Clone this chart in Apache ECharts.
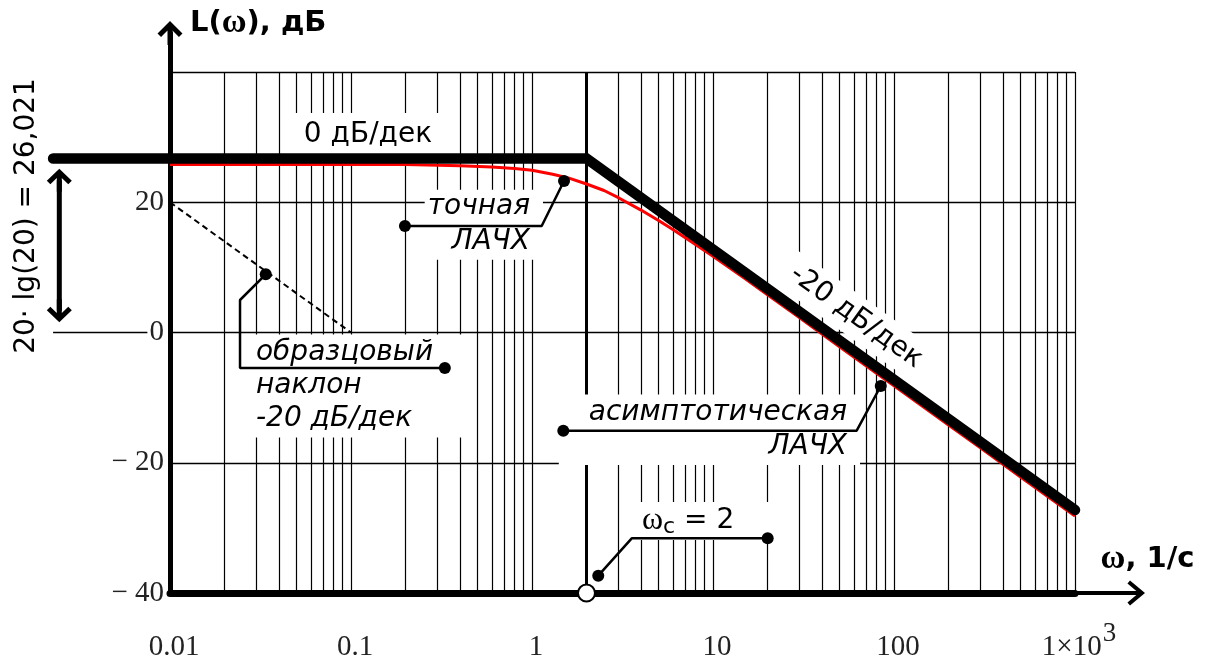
<!DOCTYPE html>
<html>
<head>
<meta charset="utf-8">
<script src="https://cdn.jsdelivr.net/npm/echarts@6/dist/echarts.min.js"></script>
<style>
  html, body { margin: 0; padding: 0; background: #fff; }
  #chart { width: 1207px; height: 661px; }
</style>
</head>
<body>
<div id="chart"></div>
<script>
// ---- axis ticks ----
const xTickLabels = ["0.01", "0.1", "1", "10", "100", "1×10{sup|3}"];
const yTicks = [-40, -20, 0, 20, 40];
const yTickLabels = ["− 40", "− 20", "0", "20", ""];
// log-paper grid lines, 1/s
const gridX = [
  0.01, 0.02, 0.03, 0.04, 0.05, 0.06, 0.07, 0.08, 0.09,
  0.1, 0.2, 0.3, 0.4, 0.5, 0.6, 0.7, 0.8, 0.9,
  1, 2, 3, 4, 5, 6, 7, 8, 9,
  10, 20, 30, 40, 50, 60, 70, 80, 90,
  100, 200, 300, 400, 500, 600, 700, 800, 900, 1000
];
const cornerW = 2;

// ---- asymptotic LAFC ----
const asymW = [0.00226, 2, 1000];
const asymL = [26.021, 26.021, -27.96];

// ---- exact LAFC ----
const exactW = [0.01, 0.1, 0.2, 0.4, 0.6, 0.8, 1, 1.3, 1.6, 2, 2.5, 3, 4, 5, 6, 8, 10,
  15, 20, 30, 50, 70, 100, 200, 300, 500, 700, 1000];
const exactL = [25.8, 25.8, 25.8, 25.6, 25.4, 25.2, 24.9, 24.3, 23.7, 22.8, 21.8, 20.7, 18.8,
  17.2, 15.8, 13.5, 11.7, 8.3, 5.8, 2.3, -2.2, -5.1, -8.2, -14.2, -17.7, -22.2, -25.1, -28.2];

// ---- reference slope -20 dB/dec ----
const slopeW = [0.01, 0.1];
const slopeL = [20, 0];

// ---- 0 dB line continued to the left, and the 20·lg(20) double arrow ----
const zeroW = [0.00226, 0.0075];
const zeroL = [0, 0];
const spanW = [0.002446, 0.002446];
const spanL = [23.37, 3.35];

// ---- callout leaders ----
const leaderExact = [[0.1986, 16.35], [1.131, 16.35], [1.503, 23.26]];
const leaderSlope = [[0.0338, 8.94], [0.02437, 4.99], [0.02437, -5.45], [0.330, -5.45]];
const leaderAsym = [[1.489, -15.08], [62.2, -15.08], [84.5, -8.21]];
const leaderWc = [[2.323, -37.34], [3.556, -31.6], [20.05, -31.6]];

// ---- annotation texts and their anchors [ω, dB] ----
const noteText = [
  "0 дБ/дек",
  "точная\nЛАЧХ",
  "образцовый\nнаклон\n-20 дБ/дек",
  "асимптотическая\nЛАЧХ",
  "-20 дБ/дек",
  "{w|ω}{c|c}{n| = 2}",
  "20· lg(20) = 26,021"
];
const noteAt = [
  [0.1241, 30.33],
  [1.150, 16.55],
  [0.02595, -8.21],
  [64.9, -14.93],
  [61.7, 2.38],
  [3.39, -28.94],
  [0.00162, 17.89]
];

const ink = "#000";
const serif = "Liberation Serif";
const sans = "DejaVu Sans";
const chevronY = "path://M0,0 L12.5,12.5 L8.96,16.04 L2.5,9.58 L2.5,24 L-2.5,24 L-2.5,9.58 L-8.96,16.04 L-12.5,12.5 Z";
const chevronX = "path://M0,0 L12.5,15 L9.43,17.56 L2,8.64 L2,30 L-2,30 L-2,8.64 L-9.43,17.56 L-12.5,15 Z";

// plot box on screen
const boxLeft = 170, boxRight = 132, boxTop = 72, boxBottom = 68;
const decadePx = 181;

const pairs = (xs, ys) => xs.map((x, i) => [x, ys[i]]);

const noteStyle = [
  { align: "center", padding: [6, 20, 10, 20], lineHeight: 28 },
  { align: "right", padding: [0, 13, 0, 3], lineHeight: 35, fontStyle: "italic" },
  { align: "left", padding: [1, 30, 3, 11], lineHeight: 33, fontStyle: "italic" },
  { align: "right", padding: [1, 13, 3, 30], lineHeight: 33.3, fontStyle: "italic" },
  { align: "center", padding: [8, 12, 4, 12], lineHeight: 28, rotate: -35.7 },
  {
    align: "left", padding: [2, 40, 2, 14], lineHeight: 34,
    rich: {
      w: { fontFamily: serif, fontSize: 32, lineHeight: 34, verticalAlign: "middle", color: ink },
      c: { fontFamily: sans, fontSize: 22, lineHeight: 34, verticalAlign: "middle", padding: [13, 0, 0, 0], color: ink },
      n: { fontFamily: sans, fontSize: 28, lineHeight: 34, verticalAlign: "middle", color: ink }
    }
  },
  { align: "center", rotate: 90, lineHeight: 28, backgroundColor: "transparent" }
];

function leader(data) {
  return {
    type: "line", data, symbol: "none", silent: true, z: 5,
    lineStyle: { color: ink, width: 2.5 }
  };
}

const dots = [leaderExact, leaderSlope, leaderAsym, leaderWc]
  .flatMap((l) => [l[0], l[l.length - 1]]);

const hiddenAxis = { show: false };

const chart = echarts.init(document.getElementById("chart"));

chart.setOption({
  animation: false,
  backgroundColor: "#fff",
  grid: [
    // 0: the log paper
    { left: boxLeft, right: boxRight, top: boxTop, bottom: boxBottom, outerBoundsMode: "none" },
    // 1: arrowed axes
    { left: boxLeft, right: 77, top: 33, bottom: boxBottom, outerBoundsMode: "none" },
    // 2: same scale, widened to the left edge, for marks outside the paper
    { left: 0, right: boxRight, top: boxTop, bottom: boxBottom, outerBoundsMode: "none" }
  ],
  xAxis: [
    {
      gridIndex: 0, type: "log", logBase: 10, min: 0.01, max: 1000,
      axisLine: { onZero: false, lineStyle: { color: ink, width: 7 } },
      axisTick: { show: false },
      splitLine: { show: false },
      axisLabel: {
        margin: 40, color: "#222", fontFamily: serif, fontSize: 29, lineHeight: 28,
        padding: [0, 0, 0, 8],
        formatter: (v) => {
          const s = xTickLabels[Math.round(Math.log10(v)) + 2];
          if (s === undefined) return "";
          return s.indexOf("{") >= 0 ? "{n|" + s.replace("{", "}{") : "{n|" + s + "}";
        },
        rich: {
          n: { fontFamily: serif, fontSize: 29, lineHeight: 28, color: "#222", verticalAlign: "middle" },
          sup: { fontFamily: serif, fontSize: 27, lineHeight: 28, color: "#222", verticalAlign: "middle", padding: [0, 0, 26, 1] }
        }
      }
    },
    {
      gridIndex: 1, type: "value", min: 0, max: 1,
      axisLine: {
        onZero: false, symbol: ["none", chevronX], symbolSize: [25, 30],
        lineStyle: { color: ink, width: 4 }
      },
      axisTick: { show: false }, axisLabel: { show: false }, splitLine: { show: false },
      name: "{w|ω}{b|, 1/с}", nameLocation: "end", nameGap: 17.5,
      nameTextStyle: {
        align: "center", verticalAlign: "bottom", padding: [0, 0, 20, 0],
        rich: {
          w: { fontFamily: serif, fontWeight: "bold", fontSize: 34, lineHeight: 28, color: ink },
          b: { fontFamily: sans, fontWeight: "bold", fontSize: 29, lineHeight: 28, color: ink }
        }
      }
    },
    Object.assign({
      gridIndex: 2, type: "log", logBase: 10,
      min: Math.pow(10, -2 - boxLeft / decadePx), max: 1000
    }, hiddenAxis)
  ],
  yAxis: [
    {
      gridIndex: 0, type: "value", min: -40, max: 40, interval: 20,
      axisLine: { show: true, onZero: false, lineStyle: { color: ink, width: 5 } },
      axisTick: { show: false },
      splitLine: { show: true, lineStyle: { color: ink, width: 1.3 } },
      axisLabel: {
        margin: 6, color: "#222", fontFamily: serif, fontSize: 29, padding: [12, 0, 0, 0],
        formatter: (v) => yTickLabels[yTicks.indexOf(Math.round(v))] || ""
      }
    },
    {
      gridIndex: 1, type: "value", min: 0, max: 1,
      axisLine: {
        show: true, onZero: false, symbol: ["none", chevronY], symbolSize: [25, 24],
        lineStyle: { color: ink, width: 5 }
      },
      axisTick: { show: false }, axisLabel: { show: false }, splitLine: { show: false },
      name: "{b|L(}{w|ω}{b|), дБ}", nameLocation: "end", nameGap: 10,
      nameTextStyle: {
        align: "left", verticalAlign: "middle", padding: [0, 0, 0, 20],
        rich: {
          w: { fontFamily: serif, fontWeight: "bold", fontSize: 34, lineHeight: 30, color: ink },
          b: { fontFamily: sans, fontWeight: "bold", fontSize: 29, lineHeight: 30, color: ink }
        }
      }
    },
    Object.assign({ gridIndex: 2, type: "value", min: -40, max: 40 }, hiddenAxis),
    // the thick asymptote sits a hair above its value, as in the original plot
    Object.assign({ gridIndex: 2, type: "value", min: -40.7, max: 39.3 }, hiddenAxis)
  ],
  series: [
    {
      // vertical log-paper lines
      type: "line", data: [], silent: true, z: 1,
      markLine: {
        z: 1,
        silent: true, symbol: "none", animation: false,
        label: { show: false },
        lineStyle: { color: ink, width: 1.2, type: "solid" },
        data: gridX.map((v) => ({ xAxis: v })).concat([
          { xAxis: cornerW, lineStyle: { color: ink, width: 3, type: "solid" } }
        ])
      }
    },
    {
      // annotation texts
      type: "scatter", xAxisIndex: 2, yAxisIndex: 2, silent: true, clip: false, z: 2,
      symbolSize: 1, itemStyle: { color: "rgba(0,0,0,0)", opacity: 1 },
      data: noteAt.map((p, i) => ({
        value: p,
        label: Object.assign({
          show: true, position: "inside", formatter: noteText[i],
          fontFamily: sans, fontSize: 28, color: ink, backgroundColor: "#fff", opacity: 1
        }, noteStyle[i])
      }))
    },
    {
      type: "line", data: pairs(exactW, exactL), symbol: "none", silent: true, z: 3,
      lineStyle: { color: "#ff0000", width: 3 }
    },
    {
      type: "line", xAxisIndex: 2, yAxisIndex: 3, data: pairs(asymW, asymL), symbol: "none",
      silent: true, z: 4,
      lineStyle: { color: ink, width: 10.5, cap: "round", join: "miter" }
    },
    {
      type: "line", xAxisIndex: 2, yAxisIndex: 2, data: pairs(zeroW, zeroL), symbol: "none",
      silent: true, z: 4,
      lineStyle: { color: ink, width: 1.3 }
    },
    {
      type: "line", xAxisIndex: 2, yAxisIndex: 2, silent: true, z: 4,
      data: pairs(spanW, spanL).map((p, i) => ({ value: p, symbolRotate: i === 0 ? 0 : 180 })),
      symbol: chevronY, symbolSize: [25, 24], symbolKeepAspect: true, showSymbol: true,
      itemStyle: { color: ink, opacity: 1 },
      lineStyle: { color: ink, width: 5 }
    },
    {
      type: "line", data: pairs(slopeW, slopeL), symbol: "none", silent: true, z: 5,
      lineStyle: { color: ink, width: 2, type: [6, 4] }
    },
    leader(leaderExact),
    leader(leaderSlope),
    leader(leaderAsym),
    leader(leaderWc),
    {
      type: "scatter", data: dots, symbolSize: 12, silent: true, z: 6,
      itemStyle: { color: ink, opacity: 1 }
    },
    {
      type: "scatter", data: [[cornerW, -40]], symbolSize: 17, silent: true, clip: false, z: 7,
      itemStyle: { color: "#fff", borderColor: ink, borderWidth: 2, opacity: 1 }
    }
  ]
});
</script>
</body>
</html>
